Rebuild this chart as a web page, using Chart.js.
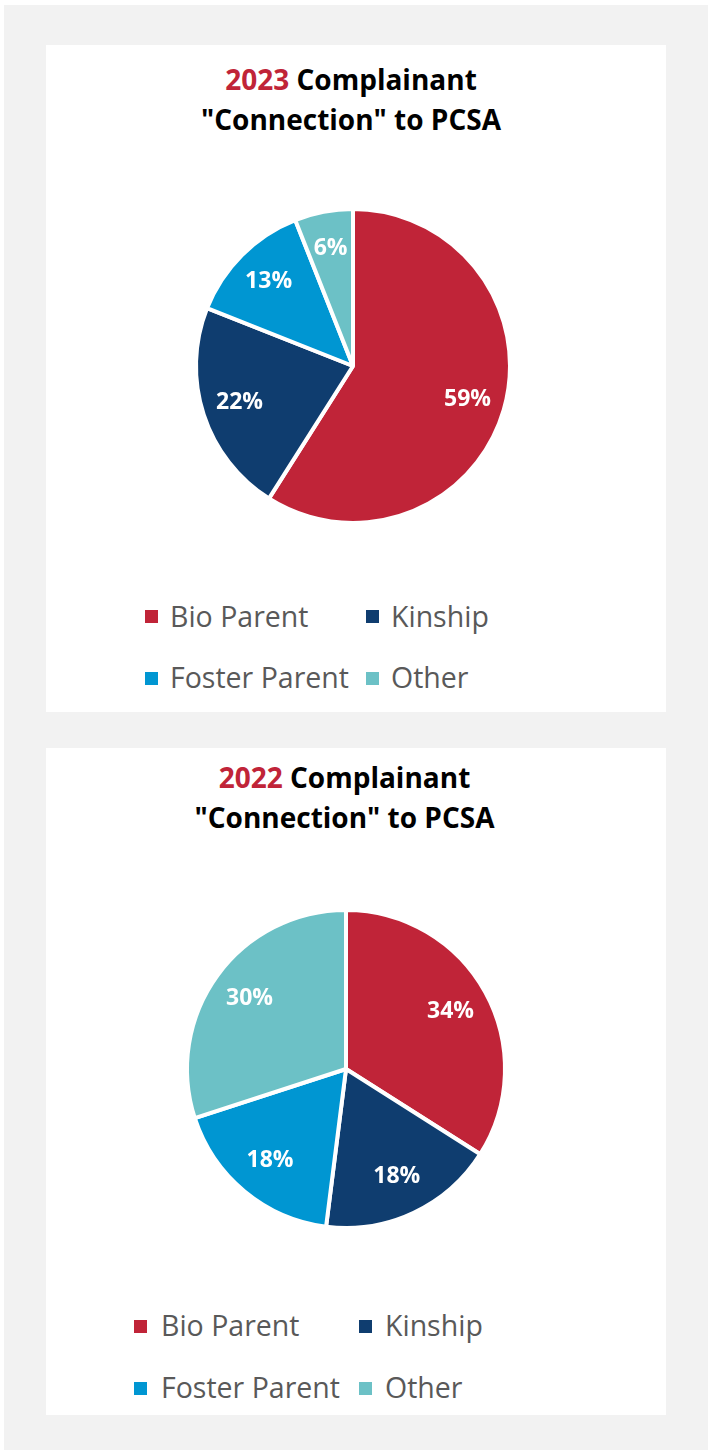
<!DOCTYPE html>
<html>
<head>
<meta charset="utf-8">
<script src="https://cdn.jsdelivr.net/npm/chart.js@4.4.0/dist/chart.umd.min.js"></script>
<style>
  body { margin: 0; background: #ffffff; width: 708px; height: 1450px; position: relative; overflow: hidden; }
  #bg { position: absolute; left: 4px; top: 5px; width: 704px; height: 1445px; background: #f2f2f2; }
  .panel { position: absolute; left: 46px; width: 620px; background: #ffffff; }
  .title { position: absolute; width: 420px; text-align: center; font-family: "Open Sans", sans-serif; font-weight: bold; font-size: 28px; line-height: 39.5px; color: #000000; white-space: nowrap; }
  .title .yr { color: #c02438; }
  .pie { position: absolute; width: 360px; height: 360px; }
  .sw { position: absolute; width: 13px; height: 13px; }
  .lt { position: absolute; font-family: "Open Sans", sans-serif; font-size: 28.5px; line-height: 40px; color: #595959; white-space: nowrap; }
</style>
</head>
<body>
<div id="bg"></div>
<div class="panel" style="top:45px;height:667px;"></div>
<div class="panel" style="top:748px;height:667px;"></div>
<div id="root"></div>
<script>
const categories = ['Bio Parent', 'Kinship', 'Foster Parent', 'Other'];
const colors = ['#c02438', '#0f3d6f', '#0096d2', '#6cc1c6'];
const values2023 = [59, 22, 13, 6];
const values2022 = [34, 18, 18, 30];
const years = ['2023', '2022'];
const titleRest = ' Complainant';
const titleLine2 = '"Connection" to PCSA';

// where each chart sits on the page
const layout = [
    { values: values2023, year: years[0], titleX: 351, titleY: 60, cx: 353, cy: 366, r: 157, labelRatio: 0.76,
      swX: [145, 366], textX: [170, 391], rowY: [616.5, 678] },
    { values: values2022, year: years[1], titleX: 344.5, titleY: 758, cx: 345.5, cy: 1068.5, r: 159, labelRatio: 0.75,
      swX: [134, 359], textX: [161, 385], rowY: [1326, 1388] }
];

const pctLabels = {
    id: 'pctLabels',
    afterDatasetsDraw(chart, args, opts) {
        const ctx = chart.ctx;
        const meta = chart.getDatasetMeta(0);
        const data = chart.data.datasets[0].data;
        ctx.save();
        ctx.fillStyle = '#ffffff';
        ctx.font = 'bold 23px "Open Sans"';
        ctx.textAlign = 'center';
        ctx.textBaseline = 'middle';
        meta.data.forEach((arc, i) => {
            const p = arc.getProps(['x', 'y', 'startAngle', 'endAngle', 'outerRadius'], true);
            const mid = (p.startAngle + p.endAngle) / 2;
            const rr = p.outerRadius * opts.ratio;
            ctx.fillText(data[i] + '%', p.x + Math.cos(mid) * rr, p.y + Math.sin(mid) * rr);
        });
        ctx.restore();
    }
};

const root = document.getElementById('root');

layout.forEach(cfg => {
    const t = document.createElement('div');
    t.className = 'title';
    t.style.left = (cfg.titleX - 210) + 'px';
    t.style.top = cfg.titleY + 'px';
    t.innerHTML = `<span class="yr">${cfg.year}</span>${titleRest}<br>${titleLine2}`;
    root.appendChild(t);

    const box = document.createElement('div');
    box.className = 'pie';
    box.style.left = (cfg.cx - 180) + 'px';
    box.style.top = (cfg.cy - 180) + 'px';
    const cv = document.createElement('canvas');
    cv.width = 360;
    cv.height = 360;
    box.appendChild(cv);
    root.appendChild(box);

    new Chart(cv.getContext('2d'), {
        type: 'pie',
        data: {
            labels: categories,
            datasets: [{
                data: cfg.values,
                backgroundColor: colors,
                borderColor: '#ffffff',
                borderWidth: 4,
                radius: cfg.r
            }]
        },
        options: {
            responsive: false,
            animation: false,
            devicePixelRatio: 1,
            layout: { padding: 0 },
            plugins: {
                legend: { display: false },
                tooltip: { enabled: false },
                pctLabels: { ratio: cfg.labelRatio }
            }
        },
        plugins: [pctLabels]
    });

    // legend: two columns, two rows
    categories.forEach((name, i) => {
        const col = i % 2, row = Math.floor(i / 2);
        const sw = document.createElement('div');
        sw.className = 'sw';
        sw.style.background = colors[i];
        sw.style.left = cfg.swX[col] + 'px';
        sw.style.top = (cfg.rowY[row] - 6.5) + 'px';
        root.appendChild(sw);
        const tx = document.createElement('div');
        tx.className = 'lt';
        tx.textContent = name;
        tx.style.left = cfg.textX[col] + 'px';
        tx.style.top = (cfg.rowY[row] - 21) + 'px';
        root.appendChild(tx);
    });
});
</script>
</body>
</html>
